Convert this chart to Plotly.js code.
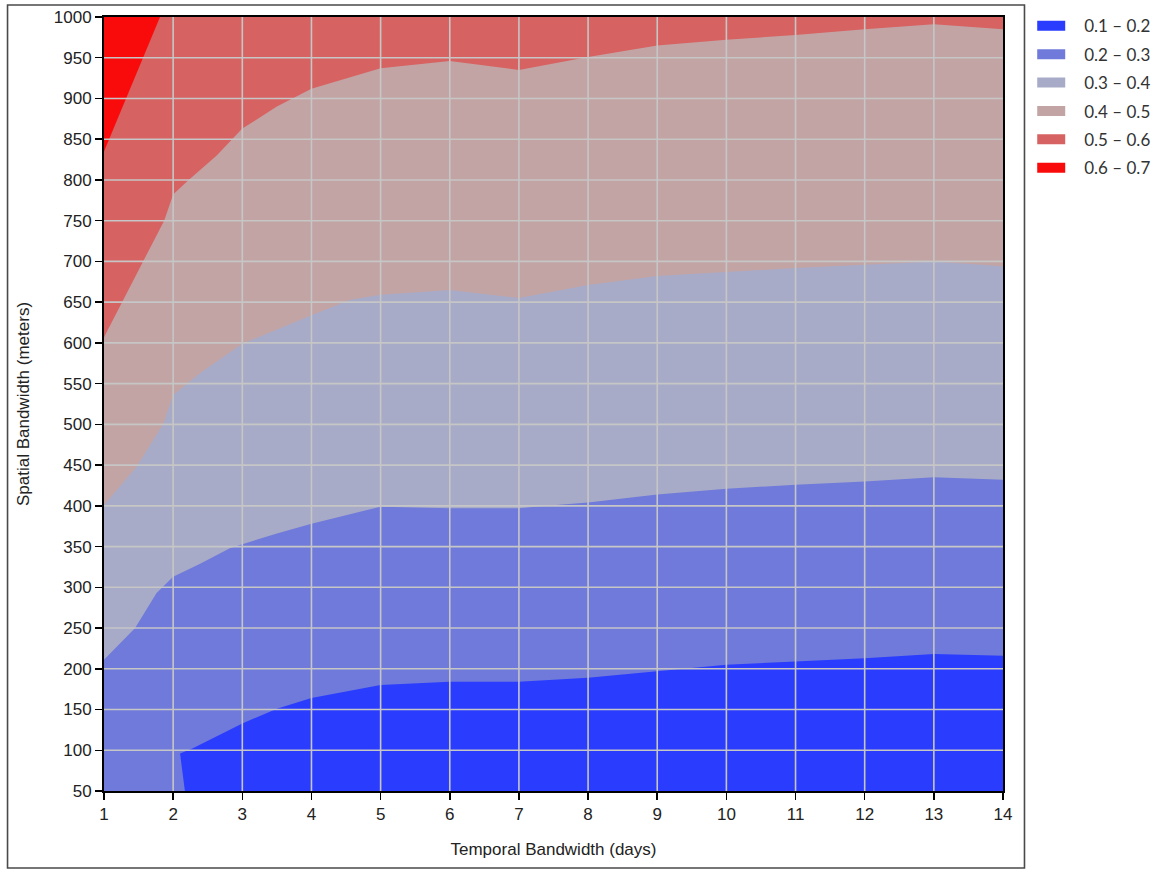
<!DOCTYPE html>
<html>
<head>
<meta charset="utf-8">
<script src="https://cdn.plot.ly/plotly-3.0.1.min.js"></script>
<style>
html,body{margin:0;padding:0;background:#ffffff;}
#chart{width:1153px;height:870px;}
</style>
</head>
<body>
<div id="chart"></div>
<script>
// ---- data ----
// band labels (bottom layer first) and their colours
const bandLabels = ['0.6 – 0.7', '0.5 – 0.6', '0.4 – 0.5', '0.3 – 0.4', '0.2 – 0.3', '0.1 – 0.2'];
const bandColors = ['#fa0b0b', '#d76262', '#c3a4a5', '#a8abc7', '#6f7ada', '#2a3cfe'];

const xTicks = [1, 2, 3, 4, 5, 6, 7, 8, 9, 10, 11, 12, 13, 14];
const yTicks = [50, 100, 150, 200, 250, 300, 350, 400, 450, 500, 550, 600, 650, 700, 750, 800, 850, 900, 950, 1000];
const xRange = [1, 14];
const yRange = [50, 1000];

// upper edge of each band (Temporal days -> Spatial meters)
const edge07X = [1, 14];
const edge07Y = [1000, 1000];
const edge06X = [1, 1.81, 14];
const edge06Y = [835, 1000, 1000];
const edge05X = [1, 1.56, 1.87, 2, 2.2, 2.63, 3, 3.5, 4, 5, 6, 7, 8, 9, 10, 11, 12, 13, 14];
const edge05Y = [607, 700, 750, 782, 798, 830, 863, 890, 912, 937, 946, 935, 951, 965, 972, 978, 985, 991, 985];
const edge04X = [1, 1.47, 1.86, 2, 2.39, 3, 4, 4.56, 5, 6, 7, 8, 9, 10, 11, 12, 13, 14];
const edge04Y = [401, 448, 501, 536, 563, 599, 634, 653, 659, 665, 655, 671, 682, 687, 692, 696, 700, 694];
const edge03X = [1, 1.45, 1.76, 2, 2.39, 2.82, 3, 3.5, 4, 5, 6, 7, 7.4, 8, 9, 9.47, 10, 11, 12, 13, 14];
const edge03Y = [211, 250, 293, 313, 329, 348, 353, 366, 378, 399, 397, 397, 400, 404, 414, 417, 421, 426, 430, 435, 432];
const edge02X = [2.17, 2.1, 2.27, 2.63, 3, 3.5, 4, 5, 6, 7, 8, 9, 9.84, 10, 11, 12, 13, 14];
const edge02Y = [50, 96, 102, 117, 133, 151, 164, 180, 184, 184, 189, 197, 203, 205, 209, 213, 218, 216];

const edgesX = [edge07X, edge06X, edge05X, edge04X, edge03X, edge02X];
const edgesY = [edge07Y, edge06Y, edge05Y, edge04Y, edge03Y, edge02Y];

// ---- traces ----
const traces = [];
for (let i = 0; i < bandLabels.length; i++) {
  traces.push({
    type: 'scatter', mode: 'lines',
    x: edgesX[i], y: edgesY[i],
    fill: 'tozeroy', fillcolor: bandColors[i],
    line: {width: 0, color: bandColors[i]},
    showlegend: false, hoverinfo: 'skip', name: bandLabels[i]
  });
}
// legend entries (swatches)
for (let i = 0; i < bandLabels.length; i++) {
  traces.push({
    type: 'scatter', mode: 'lines',
    x: [null], y: [null],
    line: {width: 11, color: bandColors[i], dash: '28px,40px'},
    name: bandLabels[i], showlegend: true, legendrank: 100 - i,
    legendgroup: 'g' + i
  });
}

// ---- gridlines drawn above the filled bands ----
const gridColor = '#c6c6c6';
const shapes = [];
xTicks.forEach(v => {
  if (v > xRange[0] && v < xRange[1]) {
    shapes.push({type: 'line', xref: 'x', yref: 'paper', x0: v, x1: v, y0: 0, y1: 1,
      layer: 'above', line: {color: gridColor, width: 1.6}});
  }
});
yTicks.forEach(v => {
  if (v > yRange[0] && v < yRange[1]) {
    shapes.push({type: 'line', xref: 'paper', yref: 'y', x0: 0, x1: 1, y0: v, y1: v,
      layer: 'above', line: {color: gridColor, width: 1.6}});
  }
});
// outer frame of the figure
shapes.push({type: 'rect', xref: 'paper', yref: 'paper',
  x0: -0.1073, x1: 1.0239, y0: -0.0995, y1: 1.0155,
  layer: 'below', line: {color: '#4a4a4a', width: 1.6}, fillcolor: 'rgba(0,0,0,0)'});

const axisFont = {family: 'Liberation Sans, Arial, sans-serif', size: 17, color: '#222222'};

const layout = {
  width: 1153, height: 870,
  margin: {l: 104, r: 150, t: 17, b: 79, pad: 0, autoexpand: false},
  paper_bgcolor: '#ffffff',
  plot_bgcolor: '#ffffff',
  showlegend: true,
  legend: {
    x: 1.0325, y: 1.0114, xanchor: 'left', yanchor: 'top',
    font: {family: 'Lato, Noto Sans, sans-serif', size: 17, color: '#333333'},
    itemwidth: 42, tracegroupgap: 3.3, bgcolor: 'rgba(0,0,0,0)', borderwidth: 0
  },
  xaxis: {
    range: xRange, tickvals: xTicks, ticktext: xTicks.map(String),
    ticks: 'outside', ticklen: 7, tickwidth: 1.5, tickcolor: '#000000',
    showline: true, linecolor: '#000000', linewidth: 2, mirror: true,
    showgrid: false, zeroline: false, tickfont: axisFont, automargin: false,
    title: {text: 'Temporal Bandwidth (days)', font: axisFont, standoff: 20}
  },
  yaxis: {
    range: yRange, tickvals: yTicks, ticktext: yTicks.map(String),
    ticks: 'outside', ticklen: 7, tickwidth: 1.5, tickcolor: '#000000',
    showline: true, linecolor: '#000000', linewidth: 2, mirror: true,
    showgrid: false, zeroline: false, tickfont: axisFont, automargin: false,
    title: {text: 'Spatial Bandwidth (meters)', font: axisFont, standoff: 20}
  },
  shapes: shapes
};

Plotly.newPlot('chart', traces, layout, {staticPlot: true, displayModeBar: false});
</script>
</body>
</html>
